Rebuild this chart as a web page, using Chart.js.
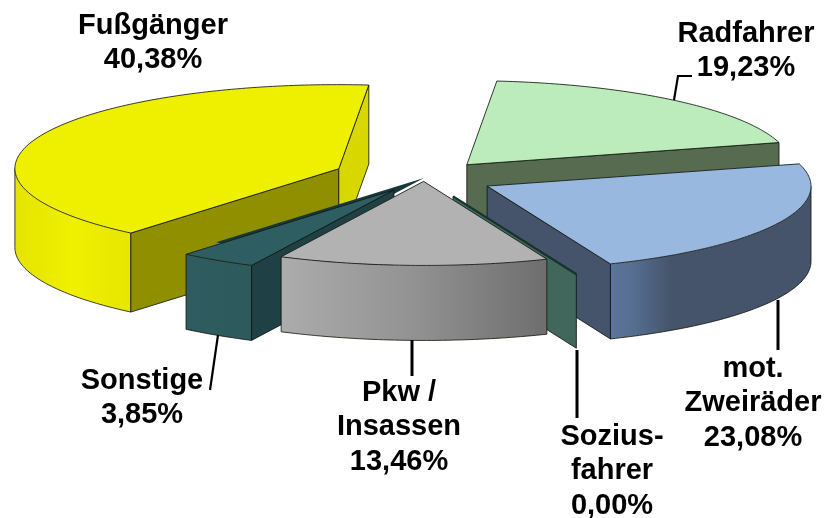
<!DOCTYPE html>
<html><head><meta charset="utf-8">
<style>html,body{margin:0;padding:0;background:#fff}canvas{display:block}</style>
<script src="https://cdn.jsdelivr.net/npm/chart.js@4"></script>
</head><body><canvas id="c" width="827" height="518"></canvas>
<script>
// ---- data ----
const categories = ['Radfahrer', 'mot. Zweiräder', 'Soziusfahrer', 'Pkw / Insassen', 'Sonstige', 'Fußgänger'];
const shares = [19.23, 23.08, 0.00, 13.46, 3.85, 40.38];
const labelLines = [['Radfahrer'], ['mot.', 'Zweiräder'], ['Sozius-', 'fahrer'], ['Pkw /', 'Insassen'], ['Sonstige'], ['Fußgänger']];

// ---- styles ----
const BASE_RADIUS = 100;
const explode = [0.206, 0.217, 0.236, 0.04, 0.17, 0.285];          // fraction of radius
const topColors = ['#bcecbc', '#98b8e0', '#41665c', '#b2b2b2', '#2e5e62', '#efef00'];
const startWall = [null, null, null, null, '#1f4044', '#8f8f00'];
const endWall = ['#566b4f', '#45546a', '#41665c', null, null, '#d8d800'];
const rimStops = [
  [[0, '#566b4f'], [1, '#566b4f']],
  [[0, '#5b769b'], [0.12, '#556d90'], [0.3, '#45546a'], [1, '#45546a']],
  [[0, '#41665c'], [1, '#41665c']],
  [[0, '#acacac'], [0.5, '#929292'], [1, '#6e6e6e']],
  [[0, '#2e5c60'], [1, '#2e5a5c']],
  [[0, '#e4e400'], [0.5, '#f0f000'], [1, '#e6e600']]
];
const depth = [75, 75, 74, 75, 75, 79];
const paintOrder = [0, 5, 1, 'ghost', 4, 2, 3];
const ghostIndex = 4, ghostColor = '#17383c';
// shared view of the disc: where its unit x and y axes land on the page
const view = {cx: 424, cy: 178, ax: 322.5, ay: 8, bx: -30, by: 83.7};

const labelStyle = {font: 'bold 29px "Liberation Sans", Arial, sans-serif', gap: 34.4};
const labelAnchors = [
  {x: 746, y: 33.5}, {x: 753, y: 369}, {x: 612, y: 437}, {x: 399, y: 393}, {x: 142, y: 380.5}, {x: 153, y: 26}
];
const leaders = [
  {w: 2.2, pts: [[692, 76], [678, 76], [674, 100]]},
  {w: 3, pts: [[778, 300], [778, 350]]},
  {w: 3, pts: [[577, 350], [577, 418]]},
  {w: 3, pts: [[412, 340], [412, 376]]},
  {w: 2.2, pts: [[218, 335], [210, 390]]}
];

function fmt(v) { return v.toFixed(2).replace('.', ',') + '%'; }

function unit(t) {
  return {x: view.ax * Math.cos(t) + view.bx * Math.sin(t), y: view.ay * Math.cos(t) + view.by * Math.sin(t)};
}
function sliceGeom(arc, i) {
  const mid = (arc.startAngle + arc.endAngle) / 2;
  const u = unit(mid), f = explode[i];
  const ex = view.cx + u.x * f, ey = view.cy + u.y * f;
  return {
    ex, ey,
    at(t, d) { const p = unit(t); return {x: ex + p.x, y: ey + p.y + (d || 0)}; }
  };
}
function poly(ctx, pts) {
  ctx.beginPath();
  pts.forEach((p, i) => i ? ctx.lineTo(p.x, p.y) : ctx.moveTo(p.x, p.y));
}
function rimRange(arc) {
  // the rim faces the viewer where the clockwise tangent runs leftwards
  const back = Math.atan2(view.bx, view.ax);
  let lo = back, hi = back + Math.PI;
  const s = arc.startAngle, e = arc.endAngle;
  const ranges = [];
  for (const k of [-2, 0, 2]) {
    const a = Math.max(s, lo + k * Math.PI), b = Math.min(e, hi + k * Math.PI);
    if (b > a) ranges.push([a, b]);
  }
  return ranges;
}
function drawWall(ctx, g, t, d, color) {
  const E0 = {x: g.ex, y: g.ey}, E1 = {x: g.ex, y: g.ey + d};
  const P0 = g.at(t), P1 = g.at(t, d);
  poly(ctx, [E0, P0, P1, E1]);
  ctx.closePath();
  ctx.fillStyle = color; ctx.fill();
  ctx.strokeStyle = 'rgba(15,25,20,0.85)'; ctx.lineWidth = 1; ctx.stroke();
}
function drawTop(ctx, arc, shift, opts) {
  const R = arc.outerRadius;
  const a = view.ax / R, b = view.ay / R, c = view.bx / R, d = view.by / R;
  const mid = (arc.startAngle + arc.endAngle) / 2;
  ctx.save();
  ctx.transform(a, b, c, d, view.cx - a * arc.x - c * arc.y, view.cy - b * arc.x - d * arc.y);
  // the explosion is applied here, so the arc keeps its exact radius and sweep
  ctx.translate(Math.cos(mid) * shift * R, Math.sin(mid) * shift * R);
  const clone = Object.create(arc);
  clone.options = Object.assign({}, arc.options, opts, {borderWidth: 0, offset: 0});
  Chart.ArcElement.prototype.draw.call(clone, ctx);
  ctx.restore();
}
function samples(g, s, e, d) {
  const out = [], n = Math.max(2, Math.ceil((e - s) * 60));
  for (let k = 0; k <= n; k++) out.push(g.at(s + (e - s) * k / n, d));
  return out;
}
function drawSlice(ctx, arc, i) {
  const g = sliceGeom(arc, i), d = depth[i];
  const s = arc.startAngle, e = arc.endAngle;
  // rim
  rimRange(arc).forEach(([a, b]) => {
    const top = samples(g, a, b, 0), bot = samples(g, a, b, d);
    const xs = top.map(p => p.x), x0 = Math.min(...xs), x1 = Math.max(...xs);
    const grad = ctx.createLinearGradient(x0, 0, x1, 0);
    rimStops[i].forEach(st => grad.addColorStop(st[0], st[1]));
    poly(ctx, top.concat(bot.slice().reverse()));
    ctx.closePath();
    ctx.fillStyle = grad; ctx.fill();
    ctx.strokeStyle = 'rgba(20,20,10,0.8)'; ctx.lineWidth = 1;
    poly(ctx, bot); ctx.stroke();
    poly(ctx, [top[0], bot[0]]); ctx.stroke();
    poly(ctx, [top[top.length - 1], bot[bot.length - 1]]); ctx.stroke();
  });
  // cut faces
  if (startWall[i]) drawWall(ctx, g, s, d, startWall[i]);
  if (endWall[i]) drawWall(ctx, g, e, d, endWall[i]);
  // top face: the library's own arc
  if (e > s) {
    drawTop(ctx, arc, explode[i], {});
    poly(ctx, [{x: g.ex, y: g.ey}].concat(samples(g, s, e, 0)));
    ctx.closePath();
    ctx.strokeStyle = 'rgba(20,25,15,0.85)'; ctx.lineWidth = 1; ctx.stroke();
  } else {
    poly(ctx, [{x: g.ex, y: g.ey}, g.at(s)]);
    ctx.strokeStyle = '#16332e'; ctx.lineWidth = 2.2; ctx.stroke();
  }
}
const pie3d = {
  id: 'pie3d',
  beforeDatasetsDraw(chart) {
    const ctx = chart.ctx, arcs = chart.getDatasetMeta(0).data;
    ctx.save();
    paintOrder.forEach(k => {
      if (k === 'ghost') {
        drawTop(ctx, arcs[ghostIndex], 0, {backgroundColor: ghostColor});
      } else drawSlice(ctx, arcs[k], k);
    });
    // leaders
    ctx.strokeStyle = '#000'; ctx.lineJoin = 'miter';
    leaders.forEach(l => {
      ctx.lineWidth = l.w;
      ctx.beginPath();
      l.pts.forEach((p, j) => j ? ctx.lineTo(p[0], p[1]) : ctx.moveTo(p[0], p[1]));
      ctx.stroke();
    });
    // labels
    ctx.fillStyle = '#000'; ctx.font = labelStyle.font;
    ctx.textAlign = 'center'; ctx.textBaseline = 'middle';
    categories.forEach((c, i) => {
      const lines = labelLines[i].concat(fmt(shares[i]));
      lines.forEach((t, j) => ctx.fillText(t, labelAnchors[i].x, labelAnchors[i].y + j * labelStyle.gap));
    });
    ctx.restore();
    return false;
  }
};
new Chart(document.getElementById('c'), {
  type: 'pie',
  data: {
    labels: categories,
    datasets: [{
      data: shares,
      backgroundColor: topColors,
      borderWidth: 0,
      radius: BASE_RADIUS,
      offset: explode.map(f => f * BASE_RADIUS * 4)
    }]
  },
  options: {
    responsive: false,
    animation: false,
    layout: {padding: 0},
    plugins: {legend: {display: false}, tooltip: {enabled: false}, title: {display: false}}
  },
  plugins: [pie3d]
});
</script></body></html>
